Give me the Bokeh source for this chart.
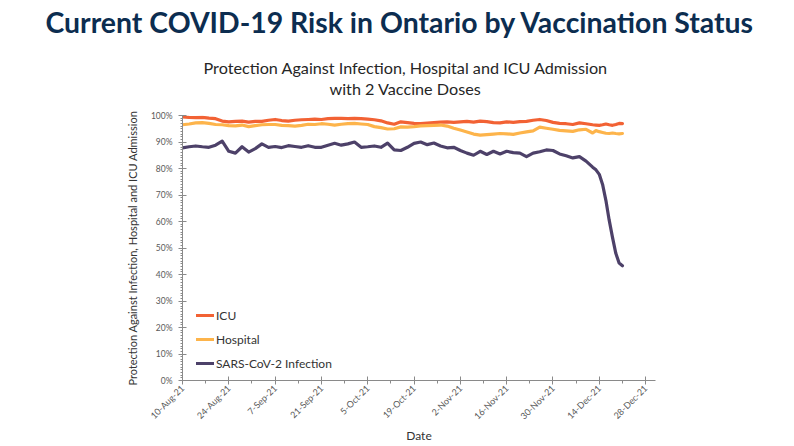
import numpy as np
import pandas as pd
from bokeh.plotting import figure
from bokeh.models import (Range1d, FixedTicker, NumeralTickFormatter, Title,
                          Legend, LegendItem)
from bokeh.embed import file_html
from bokeh.resources import INLINE

# ---------------- data ----------------
dates = pd.date_range("2021-08-10", "2021-12-12", freq="2D").append(
    pd.date_range("2021-12-13", "2021-12-21", freq="D"))

icu = [99.5, 99.3, 99.2, 99.3, 99.0, 98.8, 97.9, 97.6, 97.8, 97.9,
       97.5, 97.8, 97.8, 98.2, 98.5, 98.1, 97.9, 98.2, 98.4, 98.5,
       98.6, 98.5, 98.8, 98.9, 98.9, 98.8, 98.9, 98.8, 98.6, 98.4,
       98.0, 97.2, 96.7, 97.6, 97.3, 97.0, 96.9, 97.1, 97.3, 97.5,
       97.6, 97.4, 97.6, 97.8, 97.5, 97.9, 97.7, 97.3, 97.2, 97.6,
       97.4, 97.7, 97.8, 98.2, 98.5, 98.1, 97.4, 97.0, 96.9, 96.6,
       97.2, 96.9, 96.5,
       96.4, 96.3, 96.5, 96.8, 96.5, 96.3, 96.6, 97.0, 96.9]

hospital = [96.5, 96.8, 97.2, 97.3, 97.0, 96.6, 96.5, 96.2, 96.1, 96.4,
            95.8, 96.2, 96.5, 96.6, 96.6, 96.3, 96.2, 96.0, 96.3, 96.7,
            96.6, 96.9, 96.7, 96.4, 96.7, 96.9, 97.0, 96.8, 96.6, 95.8,
            95.4, 94.9, 95.0, 95.7, 95.6, 95.8, 96.1, 96.2, 96.3, 96.4,
            96.0, 95.2, 94.5, 93.8, 93.0, 92.6, 92.8, 93.0, 93.2, 93.1,
            92.9, 93.4, 93.8, 94.2, 95.6, 95.2, 94.8, 94.4, 94.2, 94.0,
            94.6, 94.8, 93.4,
            94.3, 93.9, 93.6, 93.3, 93.2, 93.4, 93.2, 93.1, 93.2]

infection = [87.8, 88.2, 88.5, 88.2, 88.0, 88.8, 90.3, 86.5, 85.8, 88.2,
             86.2, 87.5, 89.3, 88.0, 88.3, 87.9, 88.6, 88.3, 88.0, 88.6,
             88.0, 88.0, 88.8, 89.5, 88.8, 89.3, 90.0, 88.0, 88.2, 88.5,
             88.0, 89.6, 87.0, 86.8, 88.0, 89.5, 90.0, 89.0, 89.6, 88.5,
             87.8, 88.0, 86.8, 85.8, 85.0, 86.5, 85.3, 86.5, 85.5, 86.5,
             86.0, 85.8, 84.5, 85.8, 86.3, 87.0, 86.8, 85.5, 84.8, 84.0,
             84.5, 82.8, 80.5,
             79.5, 77.8, 74.0, 68.0, 60.5, 54.0, 48.0, 44.3, 43.3]

series_names = ["ICU", "Hospital", "SARS-CoV-2 Infection"]
series_values = [icu, hospital, infection]
series_colors = ["#f26234", "#fdb44b", "#4d4169"]

tick_dates = pd.date_range("2021-08-10", "2021-12-28", freq="14D")
minor_dates = pd.date_range("2021-08-17", "2021-12-31", freq="7D")
tick_labels = [f"{d.day}-{d.strftime('%b')}-{d.strftime('%y')}" for d in tick_dates]

main_title = "Current COVID-19 Risk in Ontario by Vaccination Status"
chart_title = ["Protection Against Infection, Hospital and ICU Admission",
               "with 2 Vaccine Doses"]
y_label = "Protection Against Infection, Hospital and ICU Admission"
x_label = "Date"

# ---------------- figure ----------------
W, H = 794, 446
L, R, T, B = 182, 139, 115, 65

def ms(d):
    return pd.Timestamp(d).value / 1e6

x0, x1 = ms("2021-08-10"), ms("2021-12-31")
p = figure(width=W, height=H, x_axis_type="datetime",
           x_range=Range1d(x0, x1), y_range=Range1d(0, 1),
           output_backend="svg", toolbar_location=None,
           min_border_left=L, min_border_right=R,
           min_border_top=T, min_border_bottom=B)
p.outline_line_color = None
p.xgrid.visible = False
p.ygrid.visible = False
p.background_fill_color = "white"
p.border_fill_color = "white"

xs = [ms(d) for d in dates]
renderers = []
for vals, col in zip(series_values, series_colors):
    r = p.line(xs, [v / 100 for v in vals], line_color=col, line_width=3.2,
               line_join="round", line_cap="round")
    renderers.append(r)

axis_col = "#8a8a8a"
lab_col = "#595959"
font = "Lato"

# x axis
xa = p.xaxis[0]
xa.ticker = FixedTicker(ticks=[ms(d) for d in tick_dates],
                        minor_ticks=[ms(d) for d in minor_dates])
xa.major_label_overrides = {ms(d): lab for d, lab in zip(tick_dates, tick_labels)}
xa.major_label_orientation = np.pi / 4
xa.major_label_text_font = font
xa.major_label_text_font_size = "9px"
xa.major_label_text_color = lab_col
xa.axis_line_color = axis_col
xa.major_tick_line_color = axis_col
xa.minor_tick_line_color = axis_col
xa.major_tick_in = 4
xa.major_tick_out = 4
xa.minor_tick_in = 0
xa.minor_tick_out = 3
xa.major_label_standoff = 2
xa.axis_label = x_label
xa.axis_label_text_font = font
xa.axis_label_text_font_style = "normal"
xa.axis_label_text_font_size = "12px"
xa.axis_label_text_color = "#333333"
xa.axis_label_standoff = 0

# y axis
ya = p.yaxis[0]
ya.ticker = FixedTicker(ticks=[i / 10 for i in range(11)],
                        minor_ticks=[i / 100 for i in range(101)])
ya.formatter = NumeralTickFormatter(format="0%")
ya.major_label_text_font = font
ya.major_label_text_font_size = "8.5px"
ya.major_label_text_color = lab_col
ya.axis_line_color = axis_col
ya.major_tick_line_color = axis_col
ya.minor_tick_line_color = axis_col
ya.major_tick_in = 4
ya.major_tick_out = 4
ya.minor_tick_in = 0
ya.minor_tick_out = 2
ya.major_label_standoff = 6
ya.axis_label = y_label
ya.axis_label_text_font = font
ya.axis_label_text_font_style = "normal"
ya.axis_label_text_font_size = "11px"
ya.axis_label_text_color = "#333333"
ya.axis_label_standoff = 9

# legend
legend = Legend(items=[LegendItem(label=n, renderers=[r])
                       for n, r in zip(series_names, renderers)],
                location=(14, 7), orientation="vertical",
                padding=0, margin=0, spacing=4,
                glyph_width=18, glyph_height=20, label_height=20,
                label_standoff=2, label_text_font=font,
                label_text_font_size="12px", label_text_color="#333333",
                background_fill_alpha=0, border_line_color=None)
p.add_layout(legend)

# titles: panels stack upward from the frame; each text is centred in its panel
def spacer(height):
    return Title(text=" ", text_font=font, text_font_size="10px",
                 standoff=height - 14)

p.add_layout(spacer(17.5), "above")
p.add_layout(Title(text=chart_title[1], align="left", offset=329 - L,
                   text_font=font, text_font_style="normal",
                   text_font_size="16.2px", text_color="#262626",
                   standoff=-1.4), "above")
p.add_layout(Title(text=chart_title[0], align="left", offset=203 - L,
                   text_font=font, text_font_style="normal",
                   text_font_size="16.2px", text_color="#262626",
                   standoff=0.6), "above")
p.add_layout(spacer(14.5), "above")
p.add_layout(Title(text=main_title, align="left", offset=45 - L,
                   text_font=font, text_font_style="bold",
                   text_font_size="28.4px", text_color="#0c2d50",
                   standoff=2.9), "above")

open("out.html", "w").write(file_html(p, INLINE))
